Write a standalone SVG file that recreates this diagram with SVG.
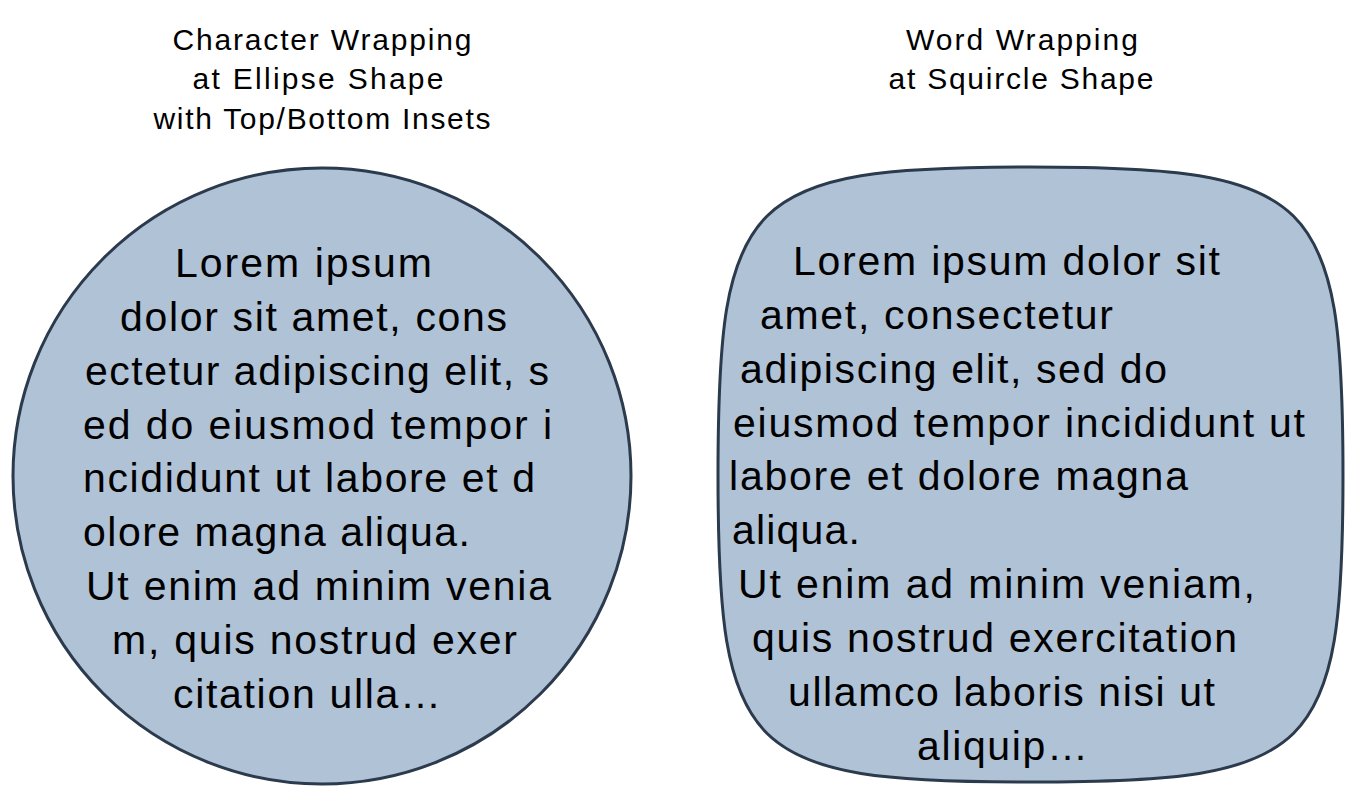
<svg xmlns="http://www.w3.org/2000/svg" width="1345" height="812" viewBox="0 0 1345 812">
<style>
.t{font-family:"Liberation Sans",Arial,sans-serif;font-size:30px;fill:#000;text-anchor:middle}
.b{font-family:"Liberation Sans",Arial,sans-serif;font-size:41px;fill:#000}
.s{fill:#b0c2d5;stroke:#2b3a4c;stroke-width:3}
</style>
<rect width="1345" height="812" fill="#fff"/>
<g id="title-left"><text class="t" x="322" y="50" textLength="299">Character Wrapping</text><text class="t" x="318" y="89" textLength="251">at Ellipse Shape</text><text class="t" x="322" y="129" textLength="337">with Top/Bottom Insets</text></g>
<g id="title-right"><text class="t" x="1022" y="50" textLength="232">Word Wrapping</text><text class="t" x="1021" y="89" textLength="265">at Squircle Shape</text></g>
<g id="ellipse">
<ellipse class="s" cx="322" cy="476" rx="309" ry="308"/>
<text class="b" x="175" y="277" textLength="257">Lorem ipsum</text>
<text class="b" x="120" y="331" textLength="387">dolor sit amet, cons</text>
<text class="b" x="85" y="385" textLength="464">ectetur adipiscing elit, s</text>
<text class="b" x="83" y="439" textLength="469">ed do eiusmod tempor i</text>
<text class="b" x="83" y="492" textLength="452">ncididunt ut labore et d</text>
<text class="b" x="83" y="546" textLength="387">olore magna aliqua.</text>
<text class="b" x="86" y="600" textLength="465">Ut enim ad minim venia</text>
<text class="b" x="112" y="654" textLength="405">m, quis nostrud exer</text>
<text class="b" x="173" y="708" textLength="268">citation ulla…</text>
</g>
<g id="squircle">
<path class="s" d="M1030 167 C1315 167 1343 195 1343 475 C1343 755 1315 782 1030 782 C745 782 718 755 718 475 C718 195 745 167 1030 167 Z"/>
<text class="b" x="793" y="275" textLength="427">Lorem ipsum dolor sit</text>
<text class="b" x="760" y="329" textLength="353">amet, consectetur</text>
<text class="b" x="740" y="383" textLength="427">adipiscing elit, sed do</text>
<text class="b" x="733" y="437" textLength="572">eiusmod tempor incididunt ut</text>
<text class="b" x="729" y="490" textLength="459">labore et dolore magna</text>
<text class="b" x="732" y="544" textLength="128">aliqua.</text>
<text class="b" x="738" y="598" textLength="517">Ut enim ad minim veniam,</text>
<text class="b" x="752" y="652" textLength="485">quis nostrud exercitation</text>
<text class="b" x="788" y="706" textLength="427">ullamco laboris nisi ut</text>
<text class="b" x="917" y="760" textLength="171">aliquip…</text>
</g>
<g id="connectors"/>
</svg>
